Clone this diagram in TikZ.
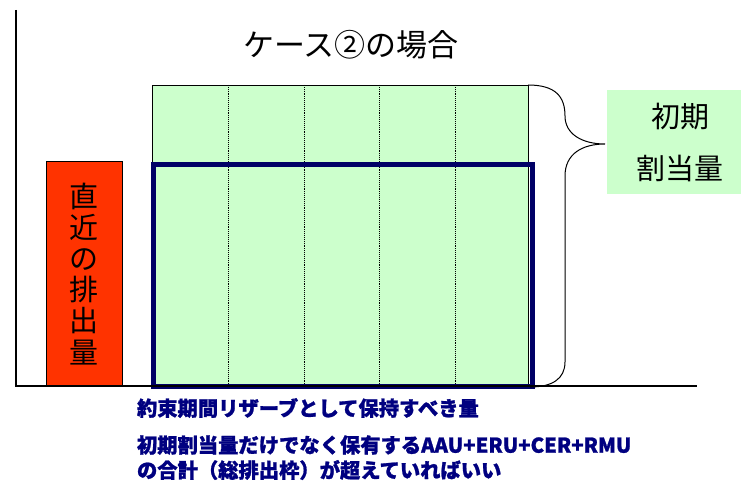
\documentclass[tikz,border=0pt]{standalone}
\usepackage{fontspec}
\newfontfamily\jp{Noto Sans CJK JP}
\newfontfamily\jpb[BoldFeatures={FakeBold=1.2}]{Noto Sans CJK JP}
\definecolor{lgreen}{HTML}{CCFFCC}
\definecolor{emisred}{HTML}{FF3300}
\definecolor{navybox}{HTML}{000066}
\definecolor{navytext}{HTML}{000080}
\begin{document}
\begin{tikzpicture}[x=1pt,y=-1pt,
  axis/.style={draw=black, line width=1.4pt},
  txt/.style={inner sep=0pt, outer sep=0pt},
  bigtxt/.style={txt, font=\jp\fontsize{29}{31.2}\selectfont},
  bluetxt/.style={txt, text=navytext, font=\jpb\bfseries\fontsize{20.3}{25}\selectfont, anchor=west},
  redbox/.style={draw=black, line width=0.8pt, fill=emisred, inner sep=0pt},
  greenbox/.style={draw=black, line width=0.8pt, fill=lgreen, inner sep=0pt},
  navyframe/.style={draw=navybox, line width=5pt, inner sep=0pt},
  dotline/.style={draw=black, line width=0.9pt, densely dotted},
  bracepath/.style={draw=black, line width=1pt},
  labelbox/.style={fill=lgreen, inner sep=0pt}]
\useasboundingbox (0,0) rectangle (741,486);
\fill[white] (0,0) rectangle (741,486);

% title
\node[bigtxt, font=\jp\fontsize{31}{33}\selectfont] (title) at (351,45) {ケース②の場合};

% green initial allocation box
\node[greenbox, anchor=north west, minimum width=376, minimum height=301] (alloc) at (152,85) {};
\foreach \xx in {228,304,379,455}{
  \draw[dotline] (\xx,85) -- (\xx,386);
}

% navy frame
\node[navyframe, anchor=north west, minimum width=378.5, minimum height=222] (reserve) at (151,162) {};

% red box
\node[redbox, anchor=south west, minimum width=76, minimum height=224] (emis) at (46,386) {};
\node[bigtxt, align=center] (emistxt) at (emis.center) {直\\近\\の\\排\\出\\量};

% axes
\coordinate (ytop) at (16,10);
\coordinate (origin) at (16,386);
\coordinate (xend) at (697,386);
\draw[axis] (ytop) -- (origin) -- (xend);

% brace
\coordinate (btop) at (528,85);
\coordinate (btip) at (605,144);
\coordinate (bbot) at (530,387);
\draw[bracepath] (btop) .. controls (556,85) and (565,97) .. (565,116)
  .. controls (565,134) and (582,144) .. (btip)
  .. controls (582,144) and (565,154) .. (565,176)
  -- (565,362) .. controls (565,379) and (552,387) .. (bbot);

% label box
\node[labelbox, anchor=north west, minimum width=134, minimum height=104] (lbl) at (607,90) {};
\node[bigtxt] (lbl1) at (680,117) {初期};
\node[bigtxt] (lbl2) at (680,168) {割当量};

% bottom texts
\node[bluetxt] (note1) at (137,408) {約束期間リザーブとして保持すべき量};
\node[bluetxt] (note2) at (137,445) {初期割当量だけでなく保有するAAU+ERU+CER+RMU};
\node[bluetxt] (note3) at (137,470) {の合計（総排出枠）が超えていればいい};
\end{tikzpicture}
\end{document}
